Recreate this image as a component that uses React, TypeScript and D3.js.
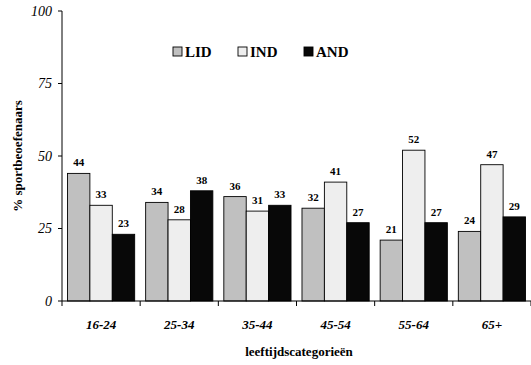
import React from "react";
import * as d3 from "d3";

const categories = ["16-24", "25-34", "35-44", "45-54", "55-64", "65+"];
const seriesNames = ["LID", "IND", "AND"];
const lid = [44, 34, 36, 32, 21, 24];
const ind = [33, 28, 31, 41, 52, 47];
const and = [23, 38, 33, 27, 27, 29];
const yTicks = [0, 25, 50, 75, 100];

const W = 531;
const H = 365;
const FONT = "Tinos, 'Liberation Serif', 'Nimbus Roman', 'DejaVu Serif'";
const fills = ["#c0c0c0", "#eeeeee", "#080808"];

export default function App() {
  const values = [lid, ind, and];
  const left = 62;
  const right = 531;
  const top = 11;
  const bottom = 301;

  const x = d3.scaleBand<string>().domain(categories).range([left, right]).paddingInner(0).paddingOuter(0);
  const y = d3.scaleLinear().domain([0, 100]).range([bottom, top]);
  const inner = d3
    .scaleBand<string>()
    .domain(seriesNames)
    .range([0, x.bandwidth()])
    .paddingInner(0)
    .paddingOuter(0.245);

  const boundaries = d3.range(categories.length + 1).map((i) => left + i * x.bandwidth());

  return (
    <svg
      width={W}
      height={H}
      style={{ position: "absolute", left: 0, top: 0, background: "#fff", fontFamily: FONT }}
    >
      {/* bars */}
      {categories.map((c, ci) =>
        seriesNames.map((s, si) => {
          const v = values[si][ci];
          const bx = (x(c) as number) + (inner(s) as number);
          return (
            <g key={c + s}>
              <rect
                x={bx}
                y={y(v)}
                width={inner.bandwidth()}
                height={bottom - y(v)}
                fill={fills[si]}
                stroke="#000"
                strokeWidth={0.9}
              />
              <text
                x={bx + inner.bandwidth() / 2}
                y={y(v) - 7}
                textAnchor="middle"
                style={{ fontSize: 11, fontWeight: "bold", fontFamily: FONT }}
              >
                {v}
              </text>
            </g>
          );
        })
      )}

      {/* y axis */}
      <line x1={left} x2={left} y1={top} y2={bottom} stroke="#000" strokeWidth={1} />
      {yTicks.map((t) => (
        <g key={t}>
          <line x1={left - 4} x2={left} y1={y(t)} y2={y(t)} stroke="#000" />
          <text
            x={left - 10}
            y={y(t) + 4.5}
            textAnchor="end"
            style={{ fontSize: 14, fontStyle: "italic", fontFamily: FONT }}
          >
            {t}
          </text>
        </g>
      ))}

      {/* x axis */}
      <line x1={left} x2={right} y1={bottom} y2={bottom} stroke="#000" strokeWidth={1} />
      {boundaries.map((bx, i) => (
        <line key={i} x1={bx} x2={bx} y1={bottom} y2={bottom + 5} stroke="#000" />
      ))}
      {categories.map((c) => (
        <text
          key={c}
          x={(x(c) as number) + x.bandwidth() / 2}
          y={329}
          textAnchor="middle"
          style={{ fontSize: 13, fontWeight: "bold", fontStyle: "italic", fontFamily: FONT }}
        >
          {c}
        </text>
      ))}

      {/* axis titles */}
      <text
        x={299}
        y={356}
        textAnchor="middle"
        style={{ fontSize: 13, fontWeight: "bold", fontFamily: FONT }}
      >
        leeftijdscategorieën
      </text>
      <text
        transform={`translate(22,156) rotate(-90)`}
        textAnchor="middle"
        style={{ fontSize: 13, fontWeight: "bold", fontFamily: FONT }}
      >
        % sportbeoefenaars
      </text>

      {/* legend */}
      {seriesNames.map((s, i) => {
        const lx = [173, 238, 304][i];
        return (
          <g key={s}>
            <rect x={lx} y={47} width={9} height={9} fill={fills[i]} stroke="#000" strokeWidth={0.9} />
            <text x={lx + 12} y={57} style={{ fontSize: 15, fontWeight: "bold", fontFamily: FONT }}>
              {s}
            </text>
          </g>
        );
      })}
    </svg>
  );
}
